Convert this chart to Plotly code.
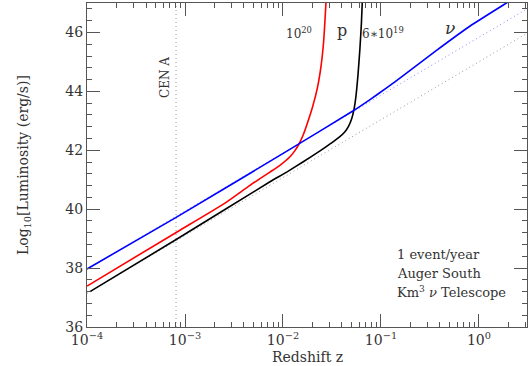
import plotly.graph_objects as go

# log10(z) and log10(L)
p20_logz = [-4.0, -3.09, -2.6, -2.337, -2.133, -2.031, -1.929, -1.88, -1.834, -1.79, -1.76, -1.70, -1.65, -1.61, -1.585, -1.57, -1.56]
p20_logl = [37.39, 39.21, 40.19, 40.81, 41.26, 41.49, 41.78, 41.98, 42.23, 42.55, 42.83, 43.45, 44.10, 44.90, 45.70, 46.50, 47.1]

p6e19_logz = [-3.97, -3.09, -2.133, -1.962, -1.793, -1.622, -1.50, -1.42, -1.37, -1.33, -1.30, -1.275, -1.255, -1.235, -1.215, -1.20, -1.19]
p6e19_logl = [37.20, 38.97, 40.93, 41.26, 41.61, 41.98, 42.26, 42.46, 42.62, 42.82, 43.06, 43.40, 43.85, 44.55, 45.45, 46.3, 47.1]

nu_logz = [-4.0, -3.09, -1.96, -1.283, -1.112, -0.95, -0.77, -0.43, -0.09, 0.28, 0.35]
nu_logl = [37.97, 39.72, 41.97, 43.34, 43.72, 44.10, 44.54, 45.40, 46.22, 47.0, 47.15]

nu_euclid_logz = [-4.0, 0.49]
nu_euclid_logl = [37.97, 46.80]
p_euclid_logz = [-4.0, 0.49]
p_euclid_logl = [37.14, 45.97]

cena_z = 8.1e-4

xtick_vals = [1e-4, 1e-3, 1e-2, 1e-1, 1e0]
xtick_text = ["10<sup>−4</sup>", "10<sup>−3</sup>", "10<sup>−2</sup>", "10<sup>−1</sup>", "10<sup>0</sup>"]

FONT = "DejaVu Serif"
TXT = "#333333"
AX = "#555555"


def z(vals):
    return [10 ** v for v in vals]


fig = go.Figure()

fig.add_trace(go.Scatter(x=[cena_z, cena_z], y=[36, 47], mode="lines",
                         line=dict(color="#999999", width=1, dash="1px,3px")))
fig.add_trace(go.Scatter(x=z(p_euclid_logz), y=p_euclid_logl, mode="lines",
                         line=dict(color="#999999", width=1, dash="1px,3px")))
fig.add_trace(go.Scatter(x=z(nu_euclid_logz), y=nu_euclid_logl, mode="lines",
                         line=dict(color="#8888ff", width=1, dash="1px,3px")))

fig.add_trace(go.Scatter(x=z(p20_logz), y=p20_logl, mode="lines",
                         line=dict(color="#ff0000", width=1.6, shape="spline", smoothing=0.5)))
fig.add_trace(go.Scatter(x=z(p6e19_logz), y=p6e19_logl, mode="lines",
                         line=dict(color="#000000", width=1.6, shape="spline", smoothing=0.5)))
fig.add_trace(go.Scatter(x=z(nu_logz), y=nu_logl, mode="lines",
                         line=dict(color="#0000ff", width=1.6, shape="spline", smoothing=0.5)))

axis_common = dict(
    showline=True, linecolor=AX, linewidth=1, mirror="allticks",
    ticks="inside", tickcolor=AX, ticklen=13, tickwidth=1,
    showgrid=False, zeroline=False, automargin=False,
    tickfont=dict(family=FONT, size=14, color=TXT),
)

fig.update_xaxes(
    type="log", range=[-4, 0.49],
    tickvals=xtick_vals, ticktext=xtick_text,
    minor=dict(ticks="inside", ticklen=5, tickcolor=AX, dtick="D1", showgrid=False),
    **axis_common,
)
fig.update_yaxes(
    range=[36, 47], tick0=36, dtick=2,
    minor=dict(ticks="inside", ticklen=5, tickcolor=AX, tick0=36, dtick=0.4, showgrid=False),
    **axis_common,
)

ann = dict(showarrow=False, font=dict(family=FONT, size=13, color=TXT))
small = dict(showarrow=False, font=dict(family=FONT, size=12, color=TXT))
fig.add_annotation(x=-3.21, y=44.47, text="CEN A", textangle=-90, **small)
fig.add_annotation(x=-1.837, y=45.97, text="10<sup>20</sup>", **small)
fig.add_annotation(x=-1.40, y=46.07, text="p", showarrow=False,
                   font=dict(family=FONT, size=16, color=TXT))
fig.add_annotation(x=-0.98, y=45.97, text="6∗10<sup>19</sup>", **small)
fig.add_annotation(x=-0.296, y=46.14, text="<i>ν</i>", showarrow=False,
                   font=dict(family=FONT, size=17, color=TXT))
fig.add_annotation(x=-0.857, y=38.47, xanchor="left", text="1 event/year", **ann)
fig.add_annotation(x=-0.857, y=37.83, xanchor="left", text="Auger South", **ann)
fig.add_annotation(x=-0.857, y=37.19, xanchor="left", text="Km<sup>3</sup> <i>ν</i> Telescope", **ann)

fig.add_annotation(xref="paper", yref="paper", x=0.5, y=-0.062, yanchor="top",
                   text="Redshift z", showarrow=False,
                   font=dict(family=FONT, size=14, color=TXT))
fig.add_annotation(xref="paper", yref="paper", x=-0.168, y=0.5,
                   text="Log<sub>10</sub>[Luminosity (erg/s)]", textangle=-90, showarrow=False,
                   font=dict(family=FONT, size=14, color=TXT))

fig.update_layout(
    width=530, height=366,
    margin=dict(l=87, r=3, t=3, b=39),
    paper_bgcolor="white", plot_bgcolor="white",
    showlegend=False,
)

fig.write_html("out.html", config={"displayModeBar": False},
               post_script="document.body.style.margin='0';")
